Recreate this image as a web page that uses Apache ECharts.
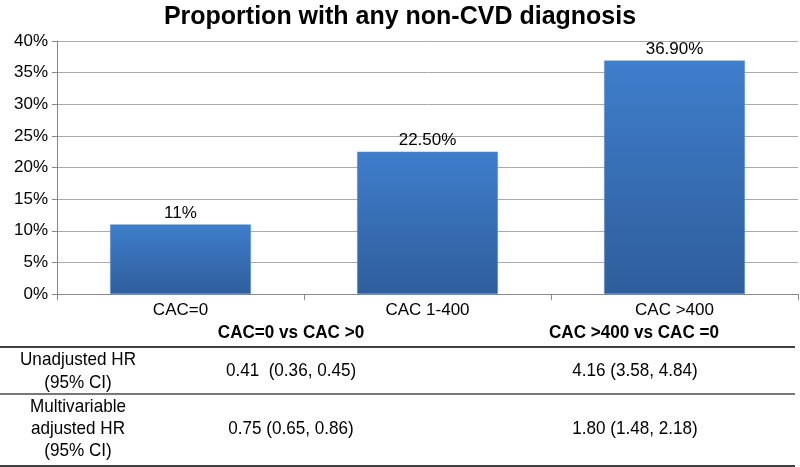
<!DOCTYPE html>
<html><head><meta charset="utf-8">
<script src="https://cdn.jsdelivr.net/npm/echarts@6/dist/echarts.min.js"></script>
<style>html,body{margin:0;padding:0;background:#fff}#c{width:800px;height:467px}</style>
</head><body><div id="c"></div>
<script>
const categories = ['CAC=0', 'CAC 1-400', 'CAC >400'];
const values = [11, 22.5, 36.9];
const valueLabels = ['11%', '22.50%', '36.90%'];
const tableHeaders = ['CAC=0 vs CAC >0', 'CAC >400 vs CAC =0'];
const rowLabels = [['Unadjusted HR', '(95% CI)'], ['Multivariable', 'adjusted HR', '(95% CI)']];
const rowCol1 = ['0.41  (0.36, 0.45)', '0.75 (0.65, 0.86)'];
const rowCol2 = ['4.16 (3.58, 4.84)', '1.80 (1.48, 2.18)'];

const chart = echarts.init(document.getElementById('c'));
const F = 'Liberation Sans, Arial, sans-serif';
const txt = (x, y, s, bold) => ({
  type: 'text', x: x, y: y, scaleX: 0.9, scaleY: 1,
  style: { text: s, fill: '#000', font: (bold ? 'bold ' : '') + '19px ' + F, textAlign: 'center', textVerticalAlign: 'middle' }
});
const hline = (y, color, w) => ({ type: 'line', shape: { x1: 0, y1: y, x2: 795, y2: y }, style: { stroke: color, lineWidth: w } });

const graphics = [
  txt(291, 333, tableHeaders[0], true),
  txt(634, 333, tableHeaders[1], true),
  hline(347, '#000', 1.5),
  txt(78, 360, rowLabels[0][0]),
  txt(78, 383, rowLabels[0][1]),
  txt(291, 371, rowCol1[0]),
  txt(635, 371, rowCol2[0]),
  hline(394, '#777', 2),
  txt(78, 407, rowLabels[1][0]),
  txt(78, 429, rowLabels[1][1]),
  txt(78, 451, rowLabels[1][2]),
  txt(291, 429, rowCol1[1]),
  txt(635, 429, rowCol2[1]),
  hline(466, '#000', 1.5)
];

chart.setOption({
  animation: false,
  title: { text: 'Proportion with any non-CVD diagnosis', left: 'center', top: 0,
    textStyle: { fontFamily: F, fontWeight: 'bold', fontSize: 25, color: '#000' } },
  grid: { left: 57, right: 2, top: 41, bottom: 173, containLabel: false },
  xAxis: {
    type: 'category', data: categories,
    axisLine: { lineStyle: { color: '#888', width: 1 } },
    axisTick: { show: true, alignWithLabel: false, length: 6, lineStyle: { color: '#888' } },
    axisLabel: { color: '#000', fontFamily: F, fontSize: 17, margin: 8 }
  },
  yAxis: {
    type: 'value', min: 0, max: 40, interval: 5,
    axisLine: { show: true, lineStyle: { color: '#888' } },
    axisTick: { show: true, length: 5, lineStyle: { color: '#888' } },
    splitLine: { lineStyle: { color: '#aaa', width: 1 } },
    axisLabel: { formatter: '{value}%', color: '#000', fontFamily: F, fontSize: 17, margin: 9 }
  },
  series: [{
    type: 'bar', data: values, barWidth: '57%',
    itemStyle: {
      color: new echarts.graphic.LinearGradient(0, 0, 0, 1, [
        { offset: 0, color: '#3f7ecc' }, { offset: 1, color: '#2f5e9c' }
      ]),
      borderColor: '#5a8fd0', borderWidth: 0.5
    },
    label: { show: true, position: 'top', distance: 3, color: '#000', fontFamily: F, fontSize: 17,
      formatter: p => valueLabels[p.dataIndex] }
  }],
  graphic: graphics
});
</script></body></html>
